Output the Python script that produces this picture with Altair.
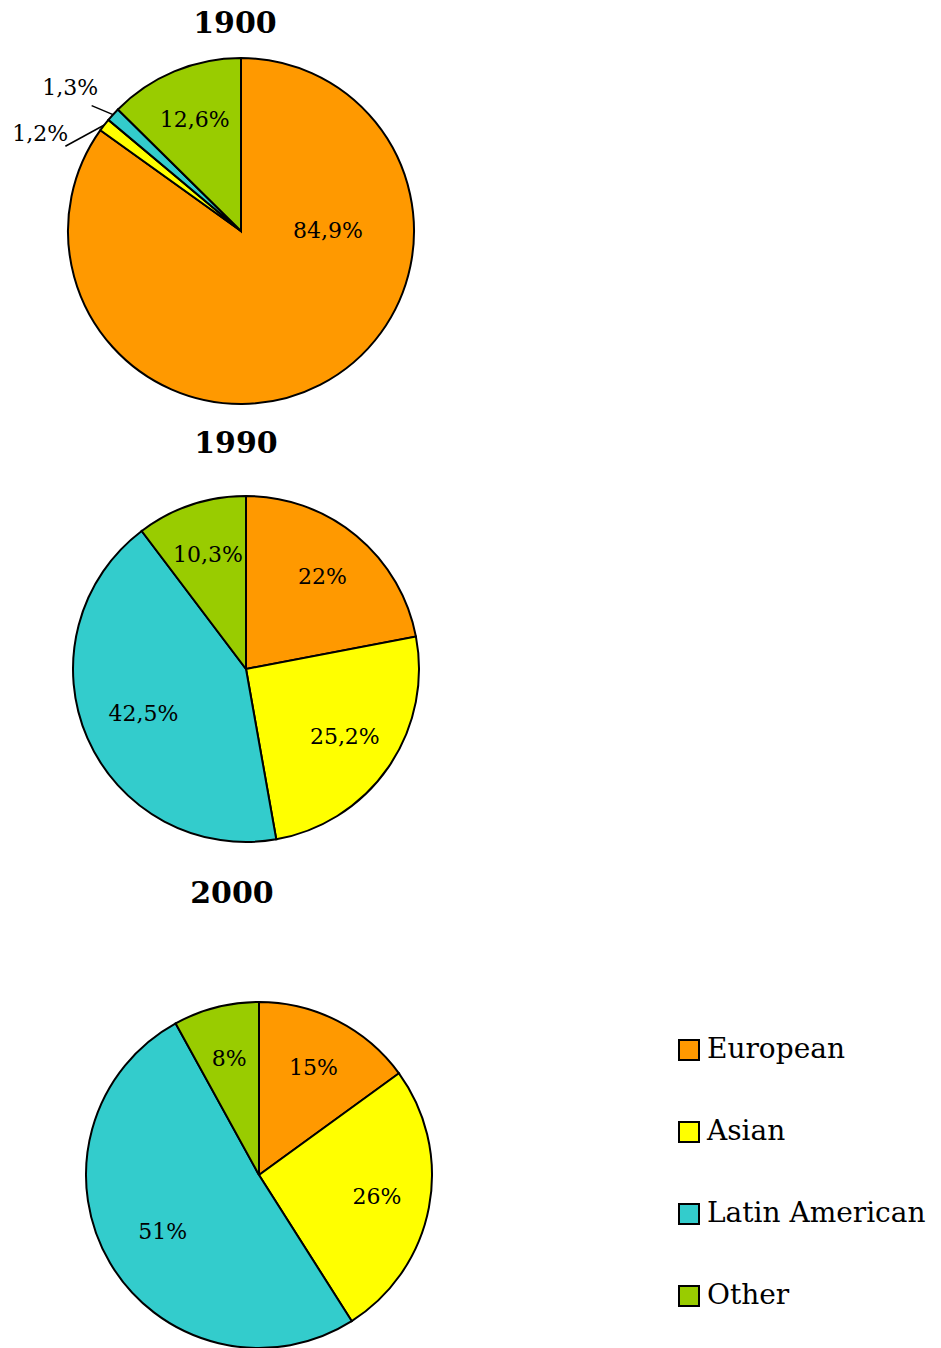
import altair as alt
import pandas as pd

# ---- data -------------------------------------------------------------
groups = ["European", "Asian", "Latin American", "Other"]
colors = ["#FF9900", "#FFFF00", "#33CCCC", "#99CC00"]
years = ["1900", "1990", "2000"]
share_1900 = [84.9, 1.2, 1.3, 12.6]
share_1990 = [22.0, 25.2, 42.5, 10.3]
share_2000 = [15.0, 26.0, 51.0, 8.0]

rows = []
for year, shares in zip(years, [share_1900, share_1990, share_2000]):
    for i, (g, s) in enumerate(zip(groups, shares)):
        rows.append({"year": year, "group": g, "share": s, "order": i,
                     "label": f"{s:g}".replace(".", ",") + "%"})
df = pd.DataFrame(rows)

# ---- layout -----------------------------------------------------------
R = 173
FONT = "DejaVu Serif"
# pie centre (cx, cy), title anchor (tx, ty)
layout = {
    "1900": (233, 223, 227, 25),
    "1990": (238, 661, 228, 445),
    "2000": (251, 1167, 224, 895),
}

legend = alt.Legend(
    orient="none", legendX=667, legendY=1028, title=None,
    symbolType="square", symbolSize=400, symbolStrokeColor="black",
    symbolStrokeWidth=2, symbolOpacity=1, labelFont=FONT, labelFontSize=28,
    labelColor="black", labelOffset=4, rowPadding=54, padding=0,
    labelLimit=400,
)
color = alt.Color("group:N", scale=alt.Scale(domain=groups, range=colors),
                  sort=groups, legend=legend)

layers = []
for year in years:
    cx, cy, tx, ty = layout[year]
    sub = alt.Chart(df).transform_filter(alt.datum.year == year)

    arcs = sub.mark_arc(radius=R, stroke="black", strokeWidth=2).encode(
        theta=alt.Theta("share:Q", stack=True),
        order=alt.Order("order:Q", sort="ascending"),
        color=color,
        x=alt.value(cx), y=alt.value(cy),
    )

    geo = sub.transform_window(
        cum="sum(share)", next_share="lead(share)",
        sort=[alt.SortField("order")], frame=[None, 0],
    ).transform_calculate(
        mid="(datum.cum - datum.share / 2) / 100 * 2 * PI",
    ).transform_calculate(
        ang="datum.share > 75 ? PI / 2 : ((datum.share < 5 && datum.next_share != null && datum.next_share < 5) ? datum.mid - 0.21 : datum.mid - (datum.share < 5 ? 0.04 : 0))",
        rl=f"datum.share > 75 ? 87 : (datum.share < 5 ? {R + 50} : (datum.share > 40 ? 112 : 120))",
    ).transform_calculate(
        lx=f"{cx} + datum.rl * sin(datum.ang)",
        ly=f"{cy} - datum.rl * cos(datum.ang)",
        ex=f"{cx} + {R} * sin(datum.mid)",
        ey=f"{cy} - {R} * cos(datum.mid)",
        kx=f"{cx} + {R + 22} * sin(datum.ang)",
        ky=f"{cy} - {R + 22} * cos(datum.ang)",
    )

    labels = geo.mark_text(font=FONT, fontSize=22, align="center",
                           baseline="middle", color="black").encode(
        x=alt.X("lx:Q", scale=None, axis=None),
        y=alt.Y("ly:Q", scale=None, axis=None),
        text="label:N",
    )

    leaders = geo.transform_filter("datum.share < 5").mark_rule(
        color="black", strokeWidth=1.5).encode(
        x=alt.X("ex:Q", scale=None, axis=None),
        y=alt.Y("ey:Q", scale=None, axis=None),
        x2="kx:Q", y2="ky:Q",
    )

    title = alt.Chart(pd.DataFrame({"title": [year]})).mark_text(
        font=FONT, fontSize=30, fontWeight="bold", align="center",
        baseline="alphabetic", color="black").encode(
        text="title:N", x=alt.value(tx), y=alt.value(ty),
    )

    layers += [arcs, leaders, labels, title]

chart = alt.layer(*layers).properties(
    width=925, height=1340, padding=0, background="white",
    autosize=alt.AutoSizeParams(type="none"),
).configure_view(stroke=None, strokeWidth=0)

chart.save("out.html", embed_options={"renderer": "svg", "actions": False})
